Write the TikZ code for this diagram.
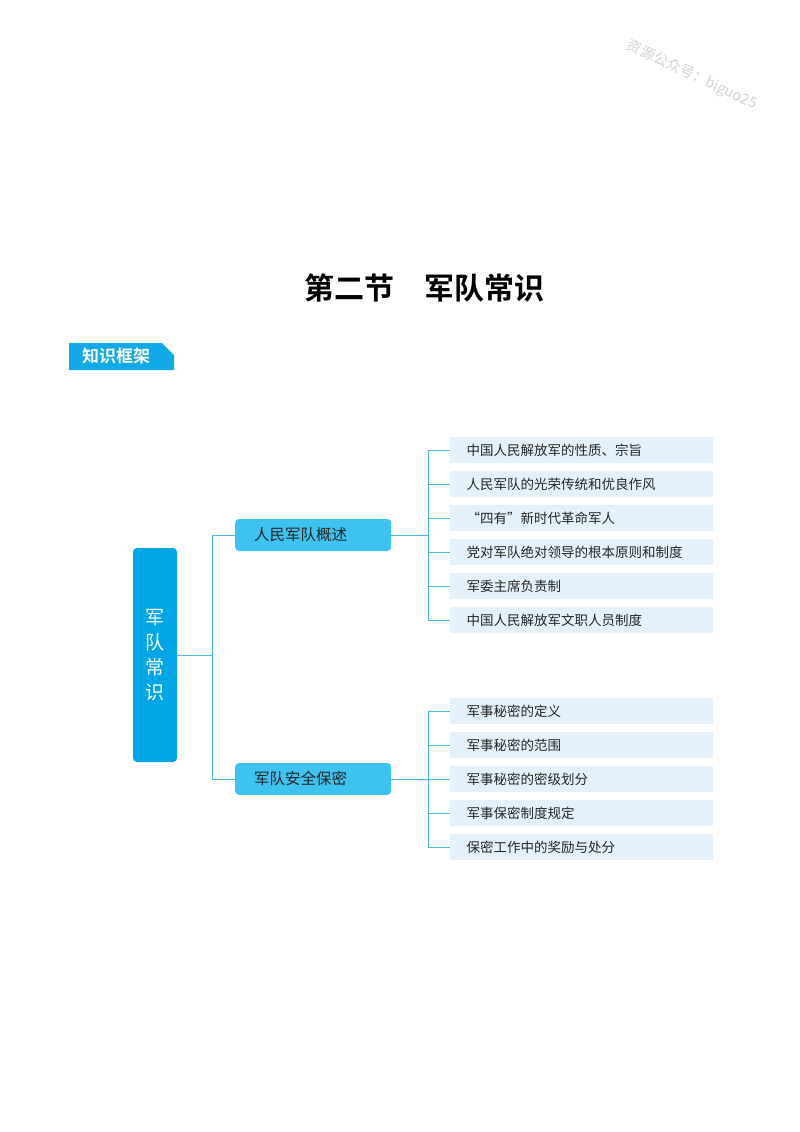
\documentclass[tikz,border=0pt]{standalone}
\usepackage{fontspec}
\setmainfont{Noto Sans CJK SC}
\newfontfamily\cjkb{Noto Sans CJK SC}[BoldFont={* Bold}]
\usetikzlibrary{positioning}
\definecolor{rootc}{HTML}{00A6E6}
\definecolor{brc}{HTML}{3EC3F1}
\definecolor{leafc}{HTML}{E4F1FA}
\definecolor{linec}{HTML}{4DB8E8}
\definecolor{tagc}{HTML}{12A9E8}
\tikzset{
 leafbox/.style={fill=leafc,minimum width=263pt,minimum height=26pt,anchor=west,inner sep=0pt,text width=246pt,align=left,font=\fontsize{13.5}{15}\selectfont,text=black!85},
 brbox/.style={fill=brc,rounded corners=4pt,minimum width=156pt,minimum height=32pt,anchor=west,inner sep=0pt,text width=146pt,align=left,font=\fontsize{15.5}{17}\selectfont,text=black!85},
 conn/.style={draw=linec,line width=0.8pt}
}
\begin{document}
\begin{tikzpicture}[x=1pt,y=-1pt]
\useasboundingbox (0,0) rectangle (800,1132);
\node[rotate=-25,text=black!18,font=\fontsize{14.5}{16}\selectfont] (wm) at (692,75) {资源公众号：biguo25};
\node[font=\cjkb\bfseries\fontsize{30}{33}\selectfont] (title) at (424,288) {第二节\quad 军队常识};
\fill[tagc] (69,343) -- (162,343) -- (174,355) -- (174,370) -- (69,370) -- cycle;
\node[text=white,font=\cjkb\bfseries\fontsize{17}{19}\selectfont] (tag) at (116,356.5) {知识框架};
\node[fill=rootc,rounded corners=4pt,minimum width=44pt,minimum height=214pt,inner sep=0pt,text=white,align=center,font=\fontsize{19}{25}\selectfont] (root) at (155,655) {军\\队\\常\\识};
\node[brbox] (b1) at (235,535) {\hspace*{14pt}人民军队概述};
\node[brbox] (b2) at (235,779) {\hspace*{14pt}军队安全保密};
\coordinate (j0) at (212,655);
\draw[conn] (root.east) -- (j0) |- (b1.west);
\draw[conn] (j0) |- (b2.west);
\foreach \t [count=\i] in {中国人民解放军的性质、宗旨,人民军队的光荣传统和优良作风,“四有”新时代革命军人,党对军队绝对领导的根本原则和制度,军委主席负责制,中国人民解放军文职人员制度}{
  \node[leafbox] (a\i) at (450,{416+34*\i}) {\hspace*{8pt}\t};
}
\foreach \t [count=\i] in {军事秘密的定义,军事秘密的范围,军事秘密的密级划分,军事保密制度规定,保密工作中的奖励与处分}{
  \node[leafbox] (c\i) at (450,{677+34*\i}) {\hspace*{8pt}\t};
}
\coordinate (j1) at (428,535);
\coordinate (j2) at (428,779);
\draw[conn] (b1.east) -- (j1);
\draw[conn] (b2.east) -- (j2);
\foreach \i in {1,...,6}{\draw[conn] (j1) |- (a\i.west);}
\foreach \i in {1,...,5}{\draw[conn] (j2) |- (c\i.west);}
\end{tikzpicture}
\end{document}
